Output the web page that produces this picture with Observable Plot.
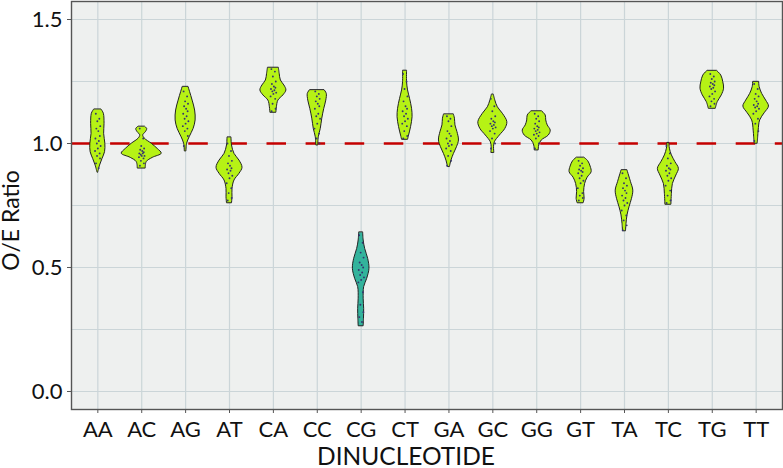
<!DOCTYPE html>
<html><head><meta charset="utf-8">
<script src="https://cdn.jsdelivr.net/npm/d3@7"></script>
<script src="https://cdn.jsdelivr.net/npm/@observablehq/plot@0.6"></script>
<style>body{margin:0;background:#fff}</style>
</head><body><div id="chart"></div>
<script>
const categories = ["AA","AC","AG","AT","CA","CC","CG","CT","GA","GC","GG","GT","TA","TC","TG","TT"];
const yTicks = [0, 0.5, 1, 1.5];
const yMinorGrid = [0.25, 0.75, 1.25];
const referenceLine = [1];

// violin outlines: [O/E value, half-width of density]
const violinAA = [[1.136,3.8],[1.120,6],[1.079,6.7],[1.039,6.3],[0.999,7.5],[0.965,7.2],[0.938,4.7],[0.911,2.2],[0.882,0.3]];
const violinAC = [[1.067,3.5],[1.058,5.5],[1.045,4],[1.033,1.5],[1.020,3],[0.999,10],[0.978,16],[0.959,20],[0.942,11],[0.925,5],[0.899,4]];
const violinAG = [[1.227,3],[1.207,4.5],[1.173,7],[1.133,9.5],[1.093,10],[1.059,8],[1.025,4],[0.999,1.5],[0.968,0.8]];
const violinAT = [[1.023,2],[0.992,2.5],[0.958,5],[0.931,10],[0.902,13],[0.878,10],[0.851,5],[0.817,3],[0.783,3],[0.759,2.5]];
const violinCA = [[1.304,5.5],[1.281,6.3],[1.254,7.5],[1.234,11],[1.214,13],[1.194,10],[1.173,5],[1.146,3.5],[1.124,3]];
const violinCC = [[1.214,7.5],[1.200,9.5],[1.173,9],[1.140,7],[1.100,5],[1.059,3.5],[1.025,1.5],[0.992,1]];
const violinCG = [[0.640,2],[0.609,2.5],[0.575,4],[0.535,7],[0.495,8.3],[0.454,6],[0.421,3],[0.374,2.5],[0.333,3],[0.293,2.8],[0.263,2.5]];
const violinCT = [[1.292,2],[1.247,2],[1.214,3],[1.180,5],[1.140,7],[1.106,7.5],[1.066,6],[1.032,4],[1.015,3]];
const violinGA = [[1.116,5],[1.100,6],[1.073,6.5],[1.046,8.5],[1.012,10],[0.985,8],[0.958,5],[0.931,2.5],[0.905,1]];
const violinGC = [[1.196,1],[1.173,2.5],[1.146,5],[1.120,10],[1.086,14.5],[1.059,12.5],[1.032,7],[1.005,2],[0.985,1.2],[0.962,1.5]];
const violinGG = [[1.129,5.5],[1.113,9],[1.093,9.5],[1.073,11],[1.052,14],[1.032,12],[1.012,5],[0.992,2.5],[0.972,2]];
const violinGT = [[0.942,4],[0.929,7.5],[0.907,10],[0.884,11],[0.862,7],[0.837,4.5],[0.804,3.5],[0.777,4],[0.759,3]];
const violinTA = [[0.891,3],[0.871,4.5],[0.844,6.5],[0.810,8.8],[0.777,7.5],[0.743,5],[0.710,3],[0.676,2],[0.646,1.5]];
const violinTC = [[1.001,1],[0.979,1.5],[0.952,3.5],[0.925,7],[0.898,10.5],[0.871,8],[0.837,4.5],[0.797,3.5],[0.753,3]];
const violinTG = [[1.292,5],[1.274,9],[1.247,11],[1.221,11.8],[1.194,9.5],[1.167,5.5],[1.140,3.5]];
const violinTT = [[1.247,3],[1.227,3.5],[1.200,6],[1.173,10],[1.149,12.8],[1.122,8.5],[1.093,4],[1.052,2.5],[1.025,2],[0.999,1.5]];

// individual sample points
const pointsAA = [1.12,1.10,1.09,1.07,1.06,1.05,1.03,1.02,1.01,1.00,0.99,0.98,0.97,0.96,0.95,0.94,0.92,0.90];
const pointsAC = [1.06,1.02,0.99,0.98,0.975,0.97,0.965,0.96,0.96,0.955,0.95,0.95,0.945,0.94,0.93,0.92,0.91];
const pointsAG = [1.21,1.19,1.17,1.16,1.15,1.14,1.13,1.12,1.11,1.10,1.09,1.08,1.07,1.06,1.05,1.03,0.99];
const pointsAT = [1.0,0.97,0.95,0.93,0.92,0.91,0.90,0.895,0.89,0.88,0.87,0.86,0.84,0.82,0.80,0.78,0.77];
const pointsCA = [1.30,1.29,1.27,1.25,1.24,1.23,1.225,1.22,1.215,1.21,1.205,1.20,1.19,1.18,1.16,1.14,1.13];
const pointsCC = [1.21,1.20,1.19,1.18,1.17,1.16,1.15,1.14,1.12,1.11,1.10,1.08,1.06,1.04,1.02,1.00];
const pointsCG = [0.63,0.60,0.56,0.54,0.52,0.51,0.50,0.49,0.48,0.47,0.46,0.45,0.44,0.40,0.35,0.32,0.30,0.28];
const pointsCT = [1.28,1.25,1.22,1.19,1.17,1.15,1.14,1.13,1.12,1.11,1.10,1.09,1.08,1.07,1.05,1.03,1.02];
const pointsGA = [1.11,1.10,1.09,1.07,1.05,1.04,1.03,1.02,1.01,1.00,0.995,0.99,0.98,0.97,0.95,0.93,0.91];
const pointsGC = [1.18,1.15,1.13,1.11,1.10,1.09,1.085,1.08,1.075,1.07,1.065,1.06,1.05,1.04,1.02,1.00,0.98];
const pointsGG = [1.12,1.11,1.10,1.09,1.08,1.07,1.065,1.06,1.055,1.05,1.045,1.04,1.035,1.03,1.02,1.00,0.98];
const pointsGT = [0.93,0.92,0.91,0.90,0.895,0.89,0.885,0.88,0.87,0.86,0.85,0.84,0.82,0.80,0.79,0.78,0.77];
const pointsTA = [0.88,0.86,0.84,0.83,0.82,0.81,0.80,0.79,0.78,0.77,0.76,0.75,0.73,0.71,0.69,0.67,0.65];
const pointsTC = [0.99,0.96,0.94,0.92,0.91,0.90,0.895,0.89,0.88,0.87,0.86,0.85,0.83,0.81,0.79,0.77,0.76];
const pointsTG = [1.28,1.27,1.26,1.25,1.245,1.24,1.235,1.23,1.225,1.22,1.21,1.20,1.19,1.18,1.17,1.16,1.15];
const pointsTT = [1.24,1.22,1.20,1.19,1.18,1.17,1.16,1.155,1.15,1.145,1.14,1.13,1.12,1.10,1.08,1.05,1.01];

const profiles = [violinAA,violinAC,violinAG,violinAT,violinCA,violinCC,violinCG,violinCT,violinGA,violinGC,violinGG,violinGT,violinTA,violinTC,violinTG,violinTT];
const points = [pointsAA,pointsAC,pointsAG,pointsAT,pointsCA,pointsCC,pointsCG,pointsCT,pointsGA,pointsGC,pointsGG,pointsGT,pointsTA,pointsTC,pointsTG,pointsTT];

// layout / style
const W = 783, H = 468, mL = 71, mR = 1, mT = 1, mB = 59;
const xDomain = [-0.6, 15.6];
const pxToUnit = (xDomain[1] - xDomain[0]) / (W - mL - mR);
const jitterPx = [-2, 1.5, -0.5, 2.4, -1.5, 0.5, 2, -2.4, 1, -1, 2.8, 0, -2.8, 1.8, -0.8, 2.2, -1.8, 0.8];
const green = "#b6f215", teal = "#33b39c";

const violinRows = [];
categories.forEach((c, i) => profiles[i].forEach(([v, w]) => violinRows.push({cat: c, i, v, w})));
const dotRows = [];
categories.forEach((c, i) => points[i].forEach((v, k) => dotRows.push({cat: c, i, v, j: jitterPx[k % jitterPx.length]})));

const violinOpts = {
  y: "v",
  x1: d => d.i - d.w * pxToUnit,
  x2: d => d.i + d.w * pxToUnit,
  z: "cat",
  stroke: "#222",
  strokeWidth: 1,
  curve: "catmull-rom"
};

const chart = Plot.plot({
  width: W, height: H,
  marginLeft: mL, marginRight: mR, marginTop: mT, marginBottom: mB,
  style: {fontFamily: "Lato, 'Open Sans', sans-serif", background: "#fff", color: "#111"},
  x: {domain: xDomain},
  y: {domain: [-0.0726, 1.5726]},
  marks: [
    Plot.frame({fill: "#eef0ef", stroke: null}),
    Plot.gridY([...yTicks, ...yMinorGrid], {stroke: "#cbd5d8", strokeOpacity: 1, strokeWidth: 1.2}),
    Plot.gridX(d3.range(categories.length), {stroke: "#cbd5d8", strokeOpacity: 1, strokeWidth: 1.2}),
    Plot.ruleY(referenceLine, {stroke: "#c40000", strokeWidth: 2.6, strokeDasharray: "19.5,19.6"}),
    Plot.areaX(violinRows.filter(d => d.cat !== "CG"), {...violinOpts, fill: green}),
    Plot.areaX(violinRows.filter(d => d.cat === "CG"), {...violinOpts, fill: teal}),
    Plot.dot(dotRows, {x: d => d.i + d.j * pxToUnit, y: "v", r: 0.95, fill: "#34346e", stroke: null}),
    Plot.frame({stroke: "#555", strokeWidth: 1.4}),
    Plot.axisY({ticks: yTicks, tickFormat: d3.format(".1f"), tickSize: 4, tickPadding: 5, fontSize: 22, label: null, stroke: "#555", fill: "#111"}),
    Plot.axisX({ticks: d3.range(categories.length), tickFormat: i => categories[i], tickSize: 4, tickPadding: 8, fontSize: 22, label: null, stroke: "#555", fill: "#111"}),
    Plot.text(["O/E Ratio"], {text: d => d, frameAnchor: "left", textAnchor: "middle", lineAnchor: "middle", rotate: -90, dx: -60, dy: 15, fontSize: 23, fill: "#111"}),
    Plot.text(["DINUCLEOTIDE"], {text: d => d, frameAnchor: "bottom", textAnchor: "middle", lineAnchor: "middle", dx: -21, dy: 47.5, fontSize: 24.5, fill: "#111"})
  ]
});
document.getElementById("chart").appendChild(chart);
</script>
</body></html>
